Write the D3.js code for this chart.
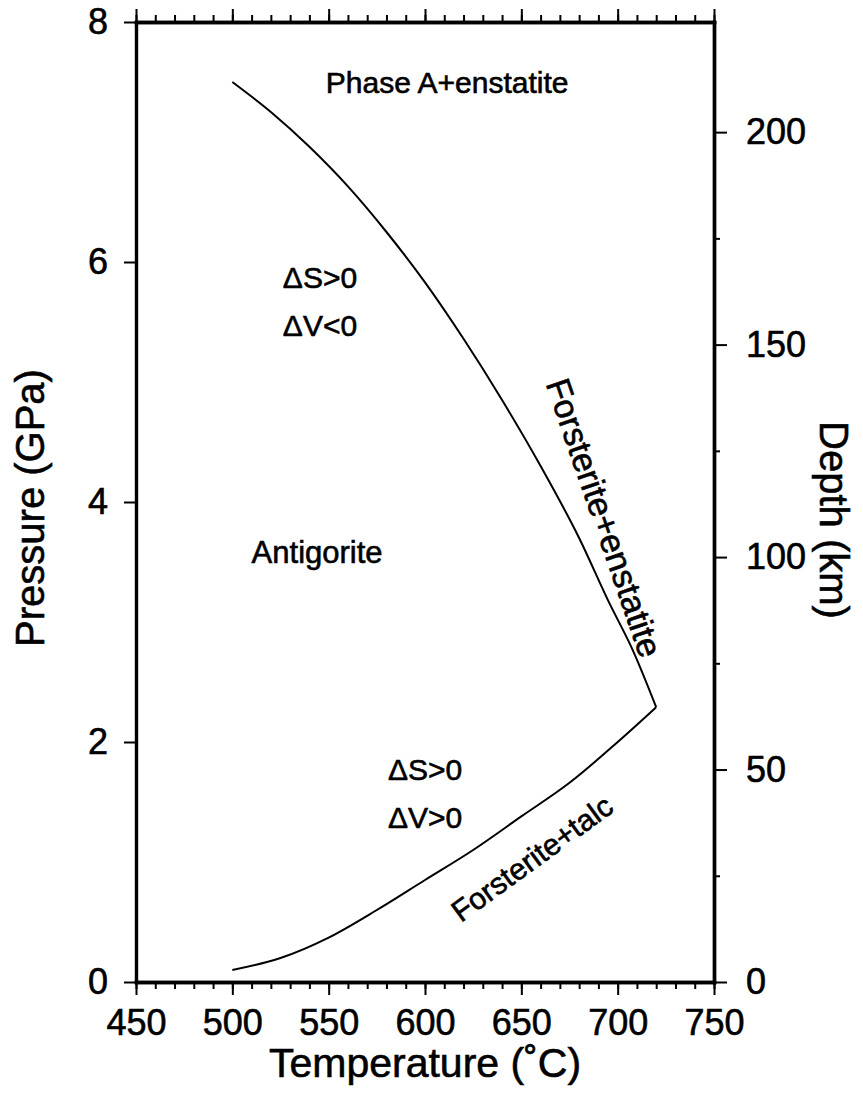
<!DOCTYPE html>
<html>
<head>
<meta charset="utf-8">
<script src="https://cdn.jsdelivr.net/npm/d3@7"></script>
<style>
  body { margin: 0; background: #fff; }
  svg text { font-family: "Liberation Sans", Arial, Helvetica, sans-serif; fill: #000; stroke: #000; stroke-width: 0.6px; }
</style>
</head>
<body>
<div id="chart"></div>
<script>
// upper boundary: antigorite -> forsterite + enstatite / phase A
let upperT = [500, 520, 540, 560, 580, 600, 620, 640, 660, 680, 695, 708, 720];
let upperP = [7.5, 7.25, 6.96, 6.63, 6.25, 5.83, 5.36, 4.85, 4.30, 3.70, 3.18, 2.76, 2.29];

// lower boundary: antigorite -> forsterite + talc
let lowerT = [500, 525, 550, 575, 600, 625, 650, 675, 700, 720];
let lowerP = [0.1, 0.2, 0.37, 0.6, 0.85, 1.1, 1.38, 1.66, 2.0, 2.29];

let tempTicks = [450, 500, 550, 600, 650, 700, 750];
let pressTicks = [0, 2, 4, 6, 8];
let depthTicks = [0, 50, 100, 150, 200];
let depthMinor = [25, 75, 125, 175];

let fieldLabels = ['Phase A+enstatite', '\u0394S>0', '\u0394V<0', 'Antigorite',
    '\u0394S>0', '\u0394V>0', 'Forsterite+talc', 'Forsterite+enstatite'];

let width = 863;
let height = 1098;
let margin = { top: 22, right: 149, bottom: 116, left: 136 };

let svg = d3.select('#chart')
    .append('svg')
    .attr('width', width)
    .attr('height', height);

let xScale = d3.scaleLinear()
    .domain([450, 750])
    .range([margin.left, width - margin.right]);

let yScale = d3.scaleLinear()
    .domain([0, 8])
    .range([height - margin.bottom, margin.top]);

// depth is ~28.24 km per GPa on this plot
let depthScale = d3.scaleLinear()
    .domain([0, 8 * 28.24])
    .range([height - margin.bottom, margin.top]);

function styleAxis(g, fontSize) {
    g.select('.domain').attr('stroke-width', 3.4).attr('stroke-linecap', 'square');
    g.selectAll('.tick line').attr('stroke-width', 2);
    g.selectAll('.tick text')
        .style('font-size', fontSize + 'px')
        .attr('fill', '#000');
}

// bottom axis
svg.append('g')
    .attr('transform', `translate(0, ${yScale(0)})`)
    .call(d3.axisBottom(xScale).tickValues(d3.range(450, 751, 10)).tickSize(7).tickFormat('').tickSizeOuter(0))
    .call(g => styleAxis(g, 36));

svg.append('g')
    .attr('transform', `translate(0, ${yScale(0)})`)
    .call(d3.axisBottom(xScale).tickValues(tempTicks).tickSize(13).tickPadding(14).tickSizeOuter(0))
    .call(g => styleAxis(g, 36));

// top axis
svg.append('g')
    .attr('transform', `translate(0, ${yScale(8)})`)
    .call(d3.axisTop(xScale).tickValues(d3.range(450, 751, 10)).tickSize(7).tickFormat('').tickSizeOuter(0))
    .call(g => styleAxis(g, 36));

svg.append('g')
    .attr('transform', `translate(0, ${yScale(8)})`)
    .call(d3.axisTop(xScale).tickValues(tempTicks).tickSize(13).tickFormat('').tickSizeOuter(0))
    .call(g => styleAxis(g, 36));

// left axis
svg.append('g')
    .attr('transform', `translate(${xScale(450)}, 0)`)
    .call(d3.axisLeft(yScale).tickValues(pressTicks).tickSize(12).tickPadding(16).tickSizeOuter(0))
    .call(g => styleAxis(g, 36));

// right axis (depth)
svg.append('g')
    .attr('transform', `translate(${xScale(750)}, 0)`)
    .call(d3.axisRight(depthScale).tickValues(depthMinor).tickSize(6).tickFormat('').tickSizeOuter(0))
    .call(g => styleAxis(g, 36));

svg.append('g')
    .attr('transform', `translate(${xScale(750)}, 0)`)
    .call(d3.axisRight(depthScale).tickValues(depthTicks).tickSize(13).tickPadding(19).tickSizeOuter(0))
    .call(g => styleAxis(g, 36));

// reaction boundaries
let line = d3.line()
    .x(d => xScale(d[0]))
    .y(d => yScale(d[1]))
    .curve(d3.curveMonotoneX);

let curves = [d3.zip(upperT, upperP), d3.zip(lowerT, lowerP)];

svg.append('g')
    .selectAll('path')
    .data(curves)
    .join('path')
    .attr('d', line)
    .attr('fill', 'none')
    .attr('stroke', '#000')
    .attr('stroke-width', 2);

// field labels, placed in temperature / pressure units
let labelPlaces = [
    { t: 611.5, p: 7.5, rot: 0, size: 30 },
    { t: 545.5, p: 5.87, rot: 0, size: 30 },
    { t: 545.5, p: 5.47, rot: 0, size: 30 },
    { t: 544, p: 3.58, rot: 0, size: 31 },
    { t: 600, p: 1.77, rot: 0, size: 30 },
    { t: 600, p: 1.37, rot: 0, size: 30 },
    { t: 655.5, p: 1.03, rot: -36, size: 30 },
    { t: 693, p: 3.87, rot: 71, size: 34 },
];

svg.append('g')
    .selectAll('text')
    .data(fieldLabels)
    .join('text')
    .attr('transform', (d, i) => {
        let pl = labelPlaces[i];
        return `translate(${xScale(pl.t)}, ${yScale(pl.p)}) rotate(${pl.rot})`;
    })
    .attr('text-anchor', 'middle')
    .attr('dy', '0.35em')
    .style('font-size', (d, i) => labelPlaces[i].size + 'px')
    .text(d => d);

// axis titles
svg.append('text')
    .attr('x', (xScale(450) + xScale(750)) / 2)
    .attr('y', 1077)
    .attr('text-anchor', 'middle')
    .style('font-size', '41px')
    .text('Temperature (\u02DAC)');

svg.append('text')
    .attr('transform', `translate(44, ${yScale(3.95)}) rotate(-90)`)
    .attr('text-anchor', 'middle')
    .style('font-size', '40px')
    .text('Pressure (GPa)');

svg.append('text')
    .attr('transform', `translate(820, ${yScale(3.85)}) rotate(90)`)
    .attr('text-anchor', 'middle')
    .style('font-size', '40px')
    .text('Depth (km)');
</script>
</body>
</html>
